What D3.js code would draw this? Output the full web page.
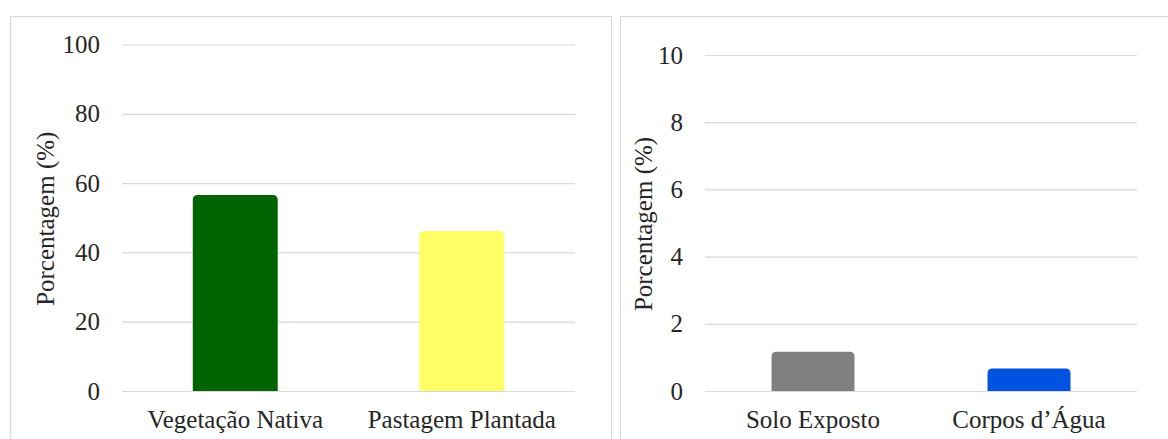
<!DOCTYPE html>
<html>
<head>
<meta charset="utf-8">
<script src="https://cdn.jsdelivr.net/npm/d3@7"></script>
<style>
  body { margin: 0; background: #fff; }
  svg text { font-family: "Liberation Serif", "Times New Roman", Times, serif; }
</style>
</head>
<body>
<div id="chartContainer"></div>
<script>
// data
const leftCategories = ["Vegetação Nativa", "Pastagem Plantada"];
const leftValues = [56.6, 46.2];
const leftColors = ["#006400", "#ffff66"];
const leftTicks = [0, 20, 40, 60, 80, 100];

const rightCategories = ["Solo Exposto", "Corpos d’Água"];
const rightValues = [1.17, 0.67];
const rightColors = ["#808080", "#0052e0"];
const rightTicks = [0, 2, 4, 6, 8, 10];

const yTitle = "Porcentagem (%)";
const serif = "'Liberation Serif', 'Times New Roman', Times, serif";
const fontSize = 25;

const svg = d3.select("#chartContainer").append("svg")
  .attr("width", 1168)
  .attr("height", 439);

// draws one panel: frame, grid, bars, labels
function drawPanel(opts) {
  const { frame, plot, cats, vals, colors, ticks, titleX } = opts;

  svg.append("rect")
    .attr("x", frame.x + 0.5)
    .attr("y", frame.y + 0.5)
    .attr("width", frame.w)
    .attr("height", frame.h)
    .attr("fill", "none")
    .attr("stroke", "#d9d9d9")
    .attr("stroke-width", 1.2);

  const x = d3.scaleBand()
    .domain(cats)
    .range([plot.left, plot.right])
    .paddingInner(opts.padIn)
    .paddingOuter(opts.padIn / 2);

  const y = d3.scaleLinear()
    .domain([0, d3.max(ticks)])
    .range([plot.bottom, plot.top]);

  // gridlines + tick labels
  const axis = svg.append("g")
    .attr("transform", `translate(${plot.left},0)`)
    .call(d3.axisLeft(y)
      .tickValues(ticks)
      .tickSize(-(plot.right - plot.left))
      .tickPadding(22)
      .tickFormat(d3.format("d")))
    .attr("font-family", serif)
    .attr("font-size", fontSize);
  axis.select(".domain").remove();
  axis.selectAll(".tick line")
    .attr("stroke", "#d9d9d9")
    .attr("stroke-width", 1.2);
  axis.selectAll(".tick text")
    .attr("fill", "#262626");

  // bars with rounded tops
  const r = 5;
  svg.append("g").selectAll("path")
    .data(vals)
    .join("path")
    .attr("fill", (d, i) => colors[i])
    .attr("d", (d, i) => {
      const x0 = x(cats[i]), x1 = x0 + x.bandwidth();
      const y0 = y(0), y1 = y(d);
      const rr = Math.min(r, (y0 - y1) / 2);
      return `M${x0},${y0}V${y1 + rr}Q${x0},${y1} ${x0 + rr},${y1}` +
        `H${x1 - rr}Q${x1},${y1} ${x1},${y1 + rr}V${y0}Z`;
    });

  // category labels
  svg.append("g").selectAll("text")
    .data(cats)
    .join("text")
    .attr("x", d => x(d) + x.bandwidth() / 2)
    .attr("y", 428)
    .attr("text-anchor", "middle")
    .attr("fill", "#262626")
    .attr("font-family", serif)
    .attr("font-size", fontSize)
    .text(d => d);

  // y title
  svg.append("text")
    .attr("transform", `translate(${titleX},${(plot.top + plot.bottom) / 2 + 1}) rotate(-90)`)
    .attr("text-anchor", "middle")
    .attr("dy", "0.35em")
    .attr("fill", "#262626")
    .attr("font-family", serif)
    .attr("font-size", fontSize)
    .text(yTitle);
}

drawPanel({
  frame: { x: 10, y: 16, w: 601, h: 440 },
  plot: { left: 122, right: 575, top: 44.5, bottom: 391 },
  cats: leftCategories, vals: leftValues, colors: leftColors, ticks: leftTicks,
  padIn: 0.625, titleX: 45
});

drawPanel({
  frame: { x: 620, y: 16, w: 560, h: 440 },
  plot: { left: 705, right: 1137, top: 55, bottom: 391 },
  cats: rightCategories, vals: rightValues, colors: rightColors, ticks: rightTicks,
  padIn: 0.616, titleX: 643
});
</script>
</body>
</html>
